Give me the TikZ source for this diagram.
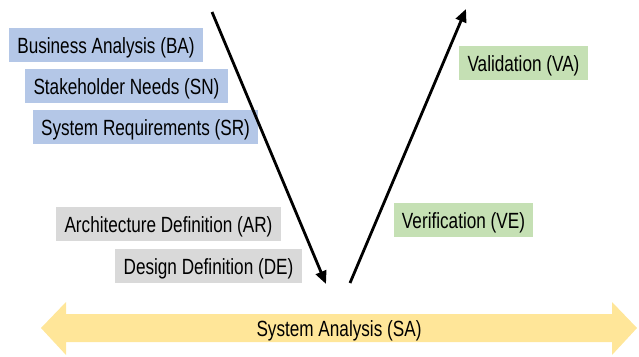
\documentclass[tikz,border=0pt]{standalone}
\usepackage{fontspec}
\setmainfont{Liberation Sans}[FakeStretch=0.78]
\usetikzlibrary{arrows.meta}
\definecolor{phaseblue}{HTML}{B4C7E7}
\definecolor{phasegray}{HTML}{D9D9D9}
\definecolor{phasegreen}{HTML}{C5E0B4}
\definecolor{phaseyellow}{HTML}{FFE699}
\tikzset{
  phase/.style={minimum height=34pt, inner sep=0pt, text=black,
    text height=17pt, text depth=0pt,
    font=\fontsize{22pt}{24pt}\selectfont},
  vline/.style={line width=2.8pt, -{Triangle[length=13pt,width=11pt]}}
}
\begin{document}
\begin{tikzpicture}[x=1pt,y=-1pt]
\useasboundingbox (0,0) rectangle (639,356);
% left branch: definition activities
\node[phase, fill=phaseblue, minimum width=194pt] (BA) at (106,45) {Business Analysis (BA)};
\node[phase, fill=phaseblue, minimum width=203pt] (SN) at (126.5,86) {Stakeholder Needs (SN)};
\node[phase, fill=phaseblue, minimum width=225pt] (SR) at (145.5,127) {System Requirements (SR)};
\node[phase, fill=phasegray, minimum width=225pt] (AR) at (168.5,224) {Architecture Definition (AR)};
\node[phase, fill=phasegray, minimum width=187pt] (DE) at (208.5,266) {Design Definition (DE)};
% right branch: checking activities
\node[phase, fill=phasegreen, minimum width=129pt] (VA) at (523.5,62.5) {Validation (VA)};
\node[phase, fill=phasegreen, minimum width=139pt] (VE) at (463.5,220) {Verification (VE)};
% the V
\coordinate (downstart) at (212,12);
\coordinate (downend) at (326,284);
\coordinate (upstart) at (350,283);
\coordinate (upend) at (466,9);
\draw[vline] (downstart) -- (downend);
\draw[vline] (upstart) -- (upend);
% system analysis band
\fill[phaseyellow] (41,328) -- (66,302) -- (66,314) -- (612,314) -- (612,302)
  -- (637,328) -- (612,355) -- (612,342) -- (66,342) -- (66,355) -- cycle;
\node[phase, minimum width=0pt] (SA) at (339,328) {System Analysis (SA)};
\end{tikzpicture}
\end{document}
